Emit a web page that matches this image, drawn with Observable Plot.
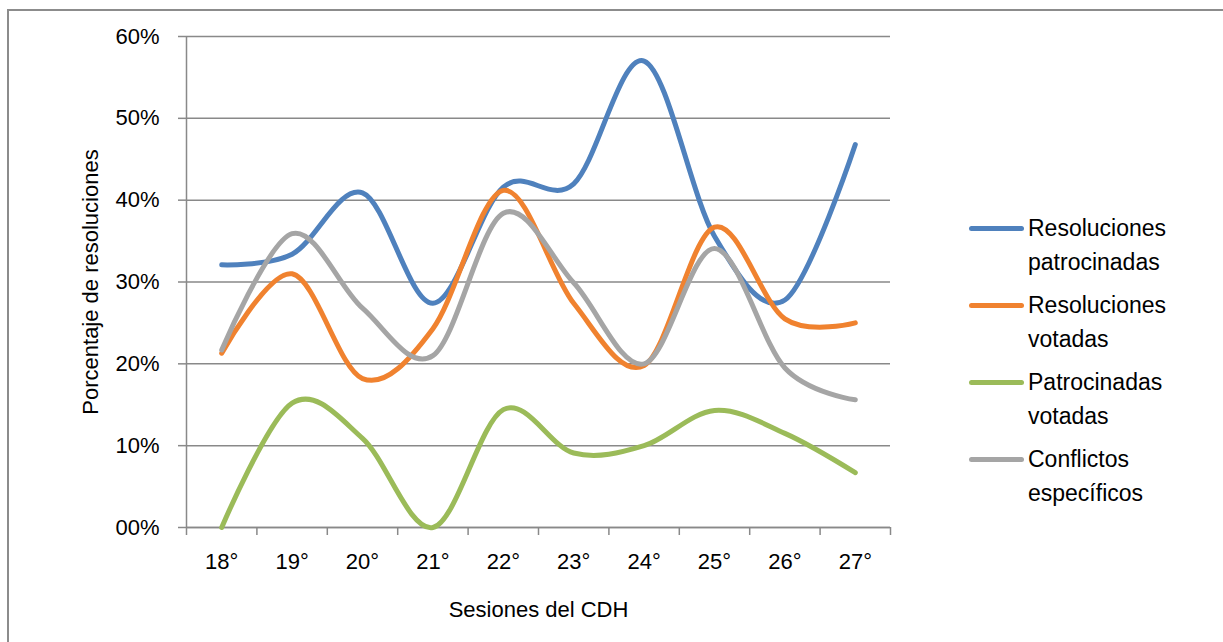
<!DOCTYPE html>
<html>
<head>
<meta charset="utf-8">
<script src="https://cdn.jsdelivr.net/npm/d3@7"></script>
<script src="https://cdn.jsdelivr.net/npm/@observablehq/plot@0.6"></script>
<style>
  html, body { margin: 0; padding: 0; background: #fff; overflow: hidden; }
  body { width: 1223px; height: 642px; position: relative; font-family: "Liberation Sans", Arial, sans-serif; }
  #frame { position: absolute; left: 7px; top: 9px; width: 1300px; height: 700px; border: 2px solid #8c8c8c; box-sizing: border-box; }
  #chart { position: absolute; left: 0; top: 0; }
  #legend { position: absolute; left: 969px; top: 211px; font-size: 23px; color: #000; }
  .item { display: flex; align-items: flex-start; margin-bottom: 9px; }
  .sw { width: 55px; height: 5px; border-radius: 3px; margin-top: 14.5px; margin-right: 4px; flex: none; }
  .lbl { line-height: 34px; }
</style>
</head>
<body>
<div id="frame"></div>
<div id="chart"></div>
<div id="legend"></div>
<script>
// ---- Data ----
const categories = ["18°", "19°", "20°", "21°", "22°", "23°", "24°", "25°", "26°", "27°"];
const resolucionesPatrocinadas = [32.1, 33.4, 40.9, 27.4, 41.6, 42.0, 57.0, 35.6, 27.8, 46.8];
const resolucionesVotadas      = [21.3, 31.0, 18.2, 24.3, 41.2, 27.4, 19.8, 36.7, 25.5, 25.0];
const patrocinadasVotadas      = [0.0, 15.2, 10.9, 0.0, 14.4, 9.1, 10.0, 14.3, 11.5, 6.7];
const conflictosEspecificos    = [21.7, 35.9, 26.8, 21.0, 38.4, 29.9, 20.0, 34.1, 19.5, 15.6];
const seriesNames = [["Resoluciones", "patrocinadas"], ["Resoluciones", "votadas"], ["Patrocinadas", "votadas"], ["Conflictos", "específicos"]];
const seriesColors = ["#4f81bd", "#f0822f", "#9bbb59", "#a5a5a5"];
const yTicks = [0, 10, 20, 30, 40, 50, 60];

const seriesValues = [resolucionesPatrocinadas, resolucionesVotadas, patrocinadasVotadas, conflictosEspecificos];
const rows = categories.map((c, i) => ({i, cat: c}));
const xDomain = [-0.5, categories.length - 0.5];
const boundaries = d3.range(categories.length + 1).map(k => k - 0.5);

const lineMarks = seriesValues.map((vals, s) =>
  Plot.line(rows, {
    x: "i",
    y: d => vals[d.i],
    stroke: seriesColors[s],
    strokeWidth: 5,
    strokeLinecap: "round",
    strokeLinejoin: "round",
    curve: "cardinal"
  })
);

const chart = Plot.plot({
  width: 1223,
  height: 642,
  marginLeft: 186,
  marginRight: 333,
  marginTop: 36,
  marginBottom: 115,
  style: { fontSize: "22px", fontFamily: "'Liberation Sans', Arial, sans-serif", color: "#000", background: "transparent", overflow: "visible" },
  x: { type: "linear", domain: xDomain },
  y: { domain: [0, 60] },
  marks: [
    Plot.gridY(yTicks, { stroke: "#898989", strokeOpacity: 1, strokeWidth: 1.5 }),
    Plot.ruleX([xDomain[0]], { stroke: "#898989", strokeWidth: 1.5 }),
    Plot.ruleY([0], { stroke: "#898989", strokeWidth: 1.5 }),
    Plot.axisY({
      ticks: yTicks, tickSize: 8, tickPadding: 19,
      stroke: "#898989", strokeWidth: 1.5,
      tickFormat: d => d3.format("02d")(d) + "%",
      label: "Porcentaje de resoluciones", labelAnchor: "center", labelArrow: "none", labelOffset: 104
    }),
    Plot.axisX({
      ticks: boundaries, tickSize: 8, stroke: "#898989", strokeWidth: 1.5,
      tickFormat: () => "", label: null
    }),
    Plot.axisX({
      ticks: d3.range(categories.length), tickSize: 0, tickPadding: 26,
      tickFormat: i => categories[i],
      label: "Sesiones del CDH", labelAnchor: "center", labelArrow: "none", labelOffset: 89
    }),
    ...lineMarks
  ]
});
document.getElementById("chart").appendChild(chart);

// Legend
const legend = document.getElementById("legend");
seriesNames.forEach((name, s) => {
  const item = document.createElement("div");
  item.className = "item";
  const sw = document.createElement("div");
  sw.className = "sw";
  sw.style.background = seriesColors[s];
  const lbl = document.createElement("div");
  lbl.className = "lbl";
  lbl.innerHTML = name.join("<br>");
  item.appendChild(sw);
  item.appendChild(lbl);
  legend.appendChild(item);
});
</script>
</body>
</html>
